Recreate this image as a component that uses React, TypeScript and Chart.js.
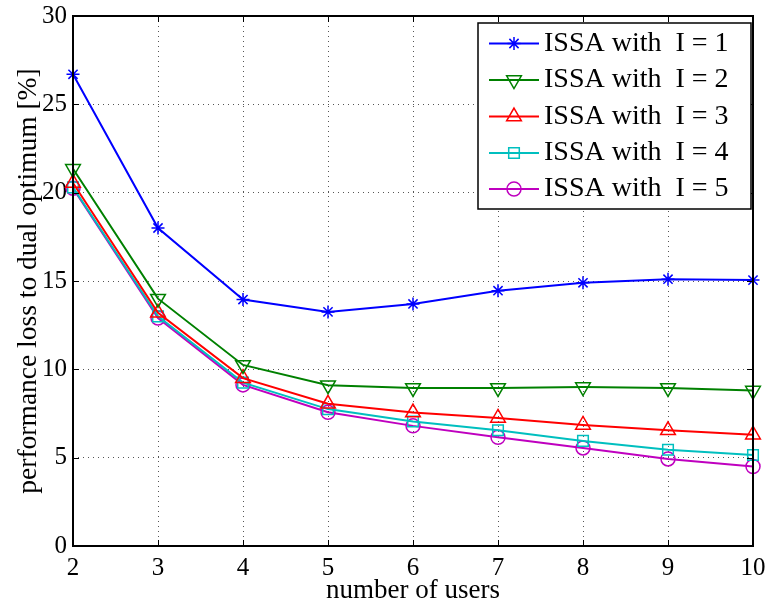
import React, { useEffect, useRef } from 'react';
import { Chart, registerables } from 'chart.js';
import { drawPoint } from 'chart.js/helpers';

Chart.register(...registerables);

const users = [2, 3, 4, 5, 6, 7, 8, 9, 10];
const issaI1 = [26.7, 18.0, 13.95, 13.25, 13.7, 14.45, 14.9, 15.1, 15.05];
const issaI2 = [21.35, 14.0, 10.25, 9.1, 8.95, 8.95, 9.0, 8.95, 8.8];
const issaI3 = [20.55, 13.2, 9.5, 8.05, 7.55, 7.25, 6.85, 6.55, 6.3];
const issaI4 = [20.3, 13.0, 9.25, 7.75, 7.05, 6.55, 5.95, 5.45, 5.15];
const issaI5 = [20.25, 12.9, 9.12, 7.57, 6.8, 6.15, 5.55, 4.93, 4.5];

const seriesLabels = [
  'ISSA with  I = 1',
  'ISSA with  I = 2',
  'ISSA with  I = 3',
  'ISSA with  I = 4',
  'ISSA with  I = 5',
];
const xTitle = 'number of users';
const yTitle = 'performance loss to dual optimum [%]';
const yMin = 0;
const yMax = 30;
const yStep = 5;
const xStep = 1;

const FONT = "'Liberation Serif', 'Times New Roman', serif";

const styles = [
  { color: '#0000ff', pointStyle: 'star', radius: 6.5, rotation: 0 },
  { color: '#008000', pointStyle: 'triangle', radius: 8.5, rotation: 180 },
  { color: '#ff0000', pointStyle: 'triangle', radius: 8.5, rotation: 0 },
  { color: '#00bfbf', pointStyle: 'rect', radius: 7.5, rotation: 0 },
  { color: '#bf00bf', pointStyle: 'circle', radius: 7, rotation: 0 },
];

const frameAndLegend = {
  id: 'frameAndLegend',
  afterDatasetsDraw(chart: any) {
    const { ctx, chartArea } = chart;
    const { left, right, top, bottom } = chartArea;
    const xs = chart.scales.x;
    const ys = chart.scales.y;
    ctx.save();
    ctx.strokeStyle = '#000';
    ctx.lineWidth = 1;
    const tl = 6;
    ctx.beginPath();
    xs.ticks.forEach((t: any) => {
      const px = Math.round(xs.getPixelForValue(t.value)) + 0.5;
      ctx.moveTo(px, bottom);
      ctx.lineTo(px, bottom - tl);
      ctx.moveTo(px, top);
      ctx.lineTo(px, top + tl);
    });
    ys.ticks.forEach((t: any) => {
      const py = Math.round(ys.getPixelForValue(t.value)) + 0.5;
      ctx.moveTo(left, py);
      ctx.lineTo(left + tl, py);
      ctx.moveTo(right, py);
      ctx.lineTo(right - tl, py);
    });
    ctx.stroke();
    ctx.lineWidth = 2;
    ctx.strokeRect(left, top, right - left, bottom - top);

    // legend
    const bx = 478;
    const by = 23;
    const bw = 273;
    const bh = 186;
    ctx.fillStyle = '#fff';
    ctx.fillRect(bx, by, bw, bh);
    ctx.lineWidth = 1.5;
    ctx.strokeStyle = '#000';
    ctx.strokeRect(bx, by, bw, bh);
    const rowY = [43.5, 80, 116.5, 153, 189];
    seriesLabels.forEach((lab, i) => {
      const s = styles[i];
      const y = rowY[i];
      ctx.strokeStyle = s.color;
      ctx.lineWidth = 2;
      ctx.beginPath();
      ctx.moveTo(489, y);
      ctx.lineTo(539, y);
      ctx.stroke();
      ctx.fillStyle = 'rgba(0,0,0,0)';
      ctx.lineWidth = 1.5;
      drawPoint(ctx, { pointStyle: s.pointStyle, radius: s.radius, rotation: s.rotation, borderWidth: 1.5 } as any, 514, y);
      ctx.fillStyle = '#000';
      ctx.font = `28px ${FONT}`;
      ctx.textBaseline = 'middle';
      ctx.textAlign = 'left';
      ctx.fillText(lab, 544, y);
    });
    ctx.restore();
  },
};

export default function App() {
  const ref = useRef<HTMLCanvasElement>(null);
  useEffect(() => {
    if (!ref.current) return;
    const series = [issaI1, issaI2, issaI3, issaI4, issaI5];
    const chart = new Chart(ref.current, {
      type: 'line',
      data: {
        datasets: series.map((vals, i) => ({
          label: seriesLabels[i],
          data: vals.map((v, j) => ({ x: users[j], y: v })),
          borderColor: styles[i].color,
          backgroundColor: 'rgba(0,0,0,0)',
          borderWidth: 2,
          pointStyle: styles[i].pointStyle as any,
          pointRadius: styles[i].radius,
          pointRotation: styles[i].rotation,
          pointBorderColor: styles[i].color,
          pointBackgroundColor: 'rgba(0,0,0,0)',
          pointBorderWidth: 1.5,
          tension: 0,
          fill: false,
          clip: false as any,
        })),
      },
      options: {
        animation: false,
        responsive: false,
        devicePixelRatio: 1,
        layout: { padding: { top: 16, right: 12, left: 0, bottom: 0 } },
        plugins: {
          legend: { display: false },
          tooltip: { enabled: false },
          title: { display: false },
        },
        scales: {
          x: {
            type: 'linear',
            min: 2,
            max: 10,
            afterFit: (s: any) => {
              s.height = 57;
              s.paddingLeft = 0;
              s.paddingRight = 0;
            },
            ticks: {
              stepSize: xStep,
              color: '#000',
              font: { family: FONT, size: 25 },
              padding: 7,
              maxRotation: 0,
            },
            grid: { color: '#555', lineWidth: 1, drawTicks: false },
            border: { display: false, dash: [1, 4] },
            title: {
              display: true,
              text: xTitle,
              color: '#000',
              font: { family: FONT, size: 27, lineHeight: 1 },
              padding: { top: 0, bottom: -1 },
            },
          },
          y: {
            type: 'linear',
            min: yMin,
            max: yMax,
            afterFit: (s: any) => {
              s.width = 73;
              s.paddingTop = 0;
              s.paddingBottom = 0;
            },
            ticks: {
              stepSize: yStep,
              color: '#000',
              font: { family: FONT, size: 25 },
              padding: 6,
            },
            grid: { color: '#555', lineWidth: 1, drawTicks: false },
            border: { display: false, dash: [1, 4] },
            title: {
              display: true,
              text: yTitle,
              color: '#000',
              font: { family: FONT, size: 27.5 },
              padding: { top: 12, bottom: 0 },
            },
          },
        },
      },
      plugins: [frameAndLegend],
    });
    return () => chart.destroy();
  }, []);
  return (
    <div style={{ position: 'absolute', left: 0, top: 0, width: 765, height: 603, background: '#fff' }}>
      <canvas ref={ref} width={765} height={603} />
    </div>
  );
}
